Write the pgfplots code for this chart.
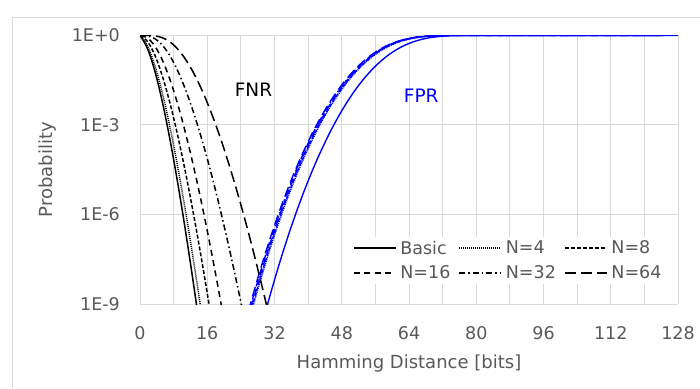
\documentclass[border=0pt]{standalone}
\usepackage{pgfplots}
\pgfplotsset{compat=1.18}
\usepackage{pgfplotstable}
\usepackage{fontspec}
\setmainfont{DejaVu Sans}
\definecolor{gridc}{HTML}{D9D9D9}
\definecolor{txtc}{HTML}{595959}
\definecolor{fprblue}{HTML}{0000FF}

% FPR: k = threshold, y = FPR (Basic); xa..xe = x positions of the N=4..64 FPR curves
\pgfplotstableread{
k y xa xb xc xd xe
29 1.92e-10 25.7 25.5 25.3 25.1 24.9
30 6.45e-10 26.7 26.5 26.3 26.1 25.9
31 2.076e-9 27.7 27.5 27.3 27.1 26.9
32 6.42e-9 28.7 28.5 28.3 28.1 27.9
33 1.905e-8 29.7 29.5 29.3 29.1 28.9
34 5.43e-8 30.7 30.5 30.3 30.1 29.9
35 1.49e-7 31.7 31.5 31.3 31.1 30.9
36 3.94e-7 32.7 32.5 32.3 32.1 31.9
37 1.00e-6 33.7 33.5 33.3 33.1 32.9
38 2.46e-6 34.7 34.5 34.3 34.1 33.9
39 5.82e-6 35.7 35.5 35.3 35.1 34.9
40 1.33e-5 36.7 36.5 36.3 36.1 35.9
41 2.94e-5 37.7 37.5 37.3 37.1 36.9
42 6.27e-5 38.7 38.5 38.3 38.1 37.9
43 1.29e-4 39.7 39.5 39.3 39.1 38.9
44 2.55e-4 40.7 40.5 40.3 40.1 39.9
45 4.98e-4 41.7 41.5 41.3 41.1 40.9
46 9.31e-4 42.7 42.5 42.3 42.1 41.9
47 1.686e-3 43.7 43.5 43.3 43.1 42.9
48 2.96e-3 44.7 44.5 44.3 44.1 43.9
49 5.04e-3 45.7 45.5 45.3 45.1 44.9
50 8.33e-3 46.7 46.5 46.3 46.1 45.9
51 0.01336 47.7 47.5 47.3 47.1 46.9
52 0.02081 48.7 48.5 48.3 48.1 47.9
53 0.03149 49.7 49.5 49.3 49.1 48.9
54 0.04632 50.7 50.5 50.3 50.1 49.9
55 0.06628 51.7 51.5 51.3 51.1 50.9
56 0.09230 52.7 52.5 52.3 52.1 51.9
57 0.12516 53.7 53.5 53.3 53.1 52.9
58 0.16540 54.7 54.5 54.3 54.1 53.9
59 0.21314 55.7 55.5 55.3 55.1 54.9
60 0.26803 56.7 56.5 56.3 56.1 55.9
61 0.32920 57.7 57.5 57.3 57.1 56.9
62 0.39533 58.7 58.5 58.3 58.1 57.9
63 0.46461 59.7 59.5 59.3 59.1 58.9
64 0.53496 60.7 60.5 60.3 60.1 59.9
65 0.60467 61.7 61.5 61.3 61.1 60.9
66 0.67080 62.7 62.5 62.3 62.1 61.9
67 0.73197 63.7 63.5 63.3 63.1 62.9
68 0.78686 64.7 64.5 64.3 64.1 63.9
69 0.83460 65.7 65.5 65.3 65.1 64.9
70 0.87484 66.7 66.5 66.3 66.1 65.9
71 0.90770 67.7 67.5 67.3 67.1 66.9
72 0.93372 68.7 68.5 68.3 68.1 67.9
73 0.95368 69.7 69.5 69.3 69.1 68.9
74 0.96851 70.7 70.5 70.3 70.1 69.9
75 0.97919 71.7 71.5 71.3 71.1 70.9
76 0.98664 72.7 72.5 72.3 72.1 71.9
77 0.99167 73.7 73.5 73.3 73.1 72.9
78 0.99496 74.7 74.5 74.3 74.1 73.9
79 0.99704 75.7 75.5 75.3 75.1 74.9
80 0.99831 76.7 76.5 76.3 76.1 75.9
82 0.99950 78.7 78.5 78.3 78.1 77.9
84 0.99987 80.7 80.5 80.3 80.1 79.9
88 0.999994 84.7 84.5 84.3 84.1 83.9
96 1 92.7 92.5 92.3 92.1 91.9
112 1 108.7 108.5 108.3 108.1 107.9
128 1 124.7 124.5 124.3 124.1 123.9
}\fprtable

\begin{document}
\begin{tikzpicture}[x=1pt,y=1pt]
\useasboundingbox (0,0) rectangle (700,388);
\draw[gridc, line width=1pt] (12.5,0) -- (12.5,370) -- (705,370);
\begin{axis}[
  at={(140pt,84pt)}, anchor=south west,
  scale only axis, width=538pt, height=269pt,
  xmin=0, xmax=128, ymode=log, ymin=1e-9, ymax=1.025,
  xtick={0,16,32,48,64,80,96,112,128},
  xticklabels={0,16,32,48,64,80,96,112,128},
  minor xtick={8,24,40,56,72,88,104,120},
  ytick={1,1e-3,1e-6,1e-9}, yticklabels={1E+0,1E-3,1E-6,1E-9},
  minor ytick={},
  xmajorgrids, xminorgrids, ymajorgrids,
  major grid style={gridc, line width=0.9pt},
  minor grid style={gridc, line width=0.9pt},
  axis line style={draw=none},
  tick style={draw=none}, major tick length=0pt, minor tick length=0pt,
  ticklabel style={font=\fontsize{17.5}{21}\selectfont, text=txtc},
  yticklabel style={inner sep=0pt, xshift=-20pt},
  xticklabel style={inner sep=0pt, yshift=-22.5pt},
  xlabel={Hamming Distance [bits]},
  xlabel style={at={(axis description cs:0.5,0)}, anchor=north, inner sep=0pt, yshift=-51pt, font=\fontsize{18}{21}\selectfont, text=txtc},
  ylabel={Probability},
  ylabel style={at={(axis description cs:-0.171,0.5)}, anchor=center, inner sep=0pt, font=\fontsize{18}{21}\selectfont, text=txtc},
  legend columns=3, legend cell align=left,
  legend style={at={(axis description cs:0.3916,0.0736)}, anchor=south west, draw=none, fill=white,
    font=\fontsize{17.5}{21}\selectfont, text=txtc, inner xsep=2pt, inner ysep=2pt,
    nodes={inner xsep=4pt}, row sep=6pt,
    /tikz/every even column/.append style={column sep=4pt}},
  legend image code/.code={\draw[#1] (0pt,0pt) -- (42pt,0pt);},
  no markers,
]
% FPR curves (blue)
\addplot[fprblue, line width=1.4pt, smooth, forget plot] table[x=k, y=y] {\fprtable};
\addplot[fprblue, line width=1.4pt, smooth, forget plot, dash pattern=on 1pt off 1pt] table[x=xa, y=y] {\fprtable};
\addplot[fprblue, line width=1.4pt, smooth, forget plot, dash pattern=on 4pt off 2pt] table[x=xb, y=y] {\fprtable};
\addplot[fprblue, line width=1.4pt, smooth, forget plot, dash pattern=on 6pt off 4.5pt] table[x=xc, y=y] {\fprtable};
\addplot[fprblue, line width=1.4pt, smooth, forget plot, dash pattern=on 6pt off 3pt on 1.5pt off 3pt] table[x=xd, y=y] {\fprtable};
\addplot[fprblue, line width=1.4pt, smooth, forget plot, dash pattern=on 10pt off 5pt] table[x=xe, y=y] {\fprtable};

% FNR curves (black)
\addplot[black, line width=1.5pt, smooth] coordinates {
(0,1) (0.5,0.77687) (1.5,0.44217) (2.5,0.19115) (3.5,0.06564) (4.5,0.018573) (5.5,4.453e-3) (6.5,9.260e-4) (7.5,1.695e-4) (8.5,2.771e-5) (9.5,4.098e-6) (10.5,5.518e-7) (11.5,6.824e-8) (12.5,7.80e-9) (13.5,8.29e-10) (14.5,8.0e-11)};
\addlegendentry{Basic}
\addplot[black, line width=1.5pt, smooth, dash pattern=on 1pt off 1pt] coordinates {
(0,1) (0.5,0.82623) (1.5,0.52213) (2.5,0.25604) (3.5,0.10082) (4.5,0.03291) (5.5,9.134e-3) (6.5,2.2012e-3) (7.5,4.681e-4) (8.5,8.902e-5) (9.5,1.530e-5) (10.5,2.397e-6) (11.5,3.453e-7) (12.5,4.600e-8) (13.5,5.695e-9) (14.5,6.59e-10) (15.5,7.2e-11)};
\addlegendentry{N=4}
\addplot[black, line width=1.5pt, smooth, dash pattern=on 4pt off 2pt] coordinates {
(0,1) (0.5,0.90928) (1.5,0.69156) (2.5,0.43029) (3.5,0.22128) (4.5,0.09587) (5.5,0.035674) (6.5,0.011596) (7.5,3.339e-3) (8.5,8.620e-4) (9.5,2.016e-4) (10.5,4.305e-5) (11.5,8.454e-6) (12.5,1.537e-6) (13.5,2.600e-7) (14.5,4.113e-8) (15.5,6.106e-9) (16.5,8.52e-10) (17.5,1.11e-10)};
\addlegendentry{N=8}
\addplot[black, line width=1.5pt, smooth, dash pattern=on 6pt off 4.5pt] coordinates {
(0,1) (0.5,0.96663) (1.5,0.85316) (2.5,0.66026) (3.5,0.44164) (4.5,0.25581) (5.5,0.12946) (6.5,0.057853) (7.5,0.023074) (8.5,8.2934e-3) (9.5,2.7088e-3) (10.5,8.1018e-4) (11.5,2.2335e-4) (12.5,5.7075e-5) (13.5,1.3589e-5) (14.5,3.0276e-6) (15.5,6.338e-7) (16.5,1.2509e-7) (17.5,2.335e-8) (18.5,4.135e-9) (19.5,6.96e-10) (20.5,1.115e-10)};
\addlegendentry{N=16}
\addplot[black, line width=1.5pt, smooth, dash pattern=on 6pt off 3pt on 1.5pt off 3pt] coordinates {
(0,1) (0.5,0.99501) (1.5,0.96856) (2.5,0.89845) (3.5,0.77459) (4.5,0.61048) (5.5,0.43652) (6.5,0.28286) (7.5,0.16652) (8.5,0.089447) (9.5,0.044057) (10.5,0.0200) (11.5,8.4088e-3) (12.5,3.2894e-3) (13.5,1.2023e-3) (14.5,4.1217e-4) (15.5,1.330e-4) (16.5,4.0522e-5) (17.5,1.1692e-5) (18.5,3.2032e-6) (19.5,8.3526e-7) (20.5,2.0777e-7) (21.5,4.940e-8) (22.5,1.1248e-8) (23.5,2.457e-9) (24.5,5.158e-10) (25.5,1.042e-10)};
\addlegendentry{N=32}
\addplot[black, line width=1.5pt, smooth, dash pattern=on 11pt off 5pt] coordinates {
(0,1) (0.5,0.99967) (1.5,0.99699) (2.5,0.98625) (3.5,0.95762) (4.5,0.90037) (5.5,0.80877) (6.5,0.68663) (7.5,0.54704) (8.5,0.40745) (9.5,0.28337) (10.5,0.18411) (11.5,0.11192) (12.5,0.063797) (13.5,0.034181) (14.5,0.017257) (15.5,8.2311e-3) (16.5,3.7181e-3) (17.5,1.5943e-3) (18.5,6.5037e-4) (19.5,2.5294e-4) (20.5,9.3968e-5) (21.5,3.3407e-5) (22.5,1.1385e-5) (23.5,3.7255e-6) (24.5,1.1722e-6) (25.5,3.5515e-7) (26.5,1.0375e-7) (27.5,2.9257e-8) (28.5,7.9737e-9) (29.5,2.1026e-9) (30.5,5.370e-10) (31.5,1.330e-10)};
\addlegendentry{N=64}

\node[font=\fontsize{18.5}{22}\selectfont, text=black] at (axis cs:27,0.0145) {FNR};
\node[font=\fontsize{18.5}{22}\selectfont, text=fprblue] at (axis cs:66.9,0.0091) {FPR};
\end{axis}
\end{tikzpicture}
\end{document}
